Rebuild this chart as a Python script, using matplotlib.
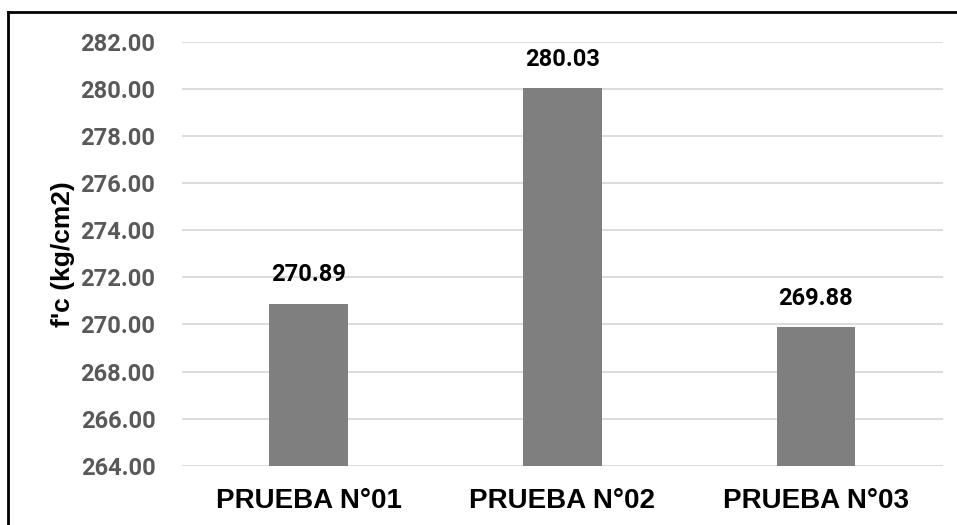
import matplotlib.pyplot as plt
from matplotlib.lines import Line2D

# Compressive strength per test
categories = ['PRUEBA N°01', 'PRUEBA N°02', 'PRUEBA N°03']
fc_values = [270.89, 280.03, 269.88]
y_ticks = [264, 266, 268, 270, 272, 274, 276, 278, 280, 282]

num_font = 'Roboto'

fig = plt.figure(figsize=(9.57, 5.25), dpi=100)
ax = fig.add_axes([0.190, 0.113, 0.795, 0.807])

x = list(range(len(categories)))
ax.bar(x, fc_values, width=0.31, color='#7f7f7f', zorder=2)

# value labels above each bar
for xi, v in zip(x, fc_values):
    ax.annotate(f'{v:.2f}', (xi, v), xytext=(0, 21), textcoords='offset points',
                ha='center', va='center', fontsize=17, fontweight='bold',
                family=num_font, color='black')

ax.set_xlim(-0.5, 2.5)
ax.set_ylim(264, 282)
ax.set_yticks(y_ticks)
ax.set_yticklabels([f'{t:.2f}' for t in y_ticks], family=num_font,
                   fontweight='bold', fontsize=17, color='#595959')
ax.set_xticks(x)
ax.set_xticklabels(categories, family='Liberation Sans', fontweight='bold',
                   fontsize=20, color='black')
ax.tick_params(axis='both', length=0)
ax.tick_params(axis='y', pad=19)
ax.tick_params(axis='x', pad=16)

ax.set_ylabel("f'c (kg/cm2)", family='Liberation Sans', fontweight='bold',
              fontsize=19, labelpad=4)

ax.grid(axis='y', color='#d9d9d9', linewidth=1.3, zorder=0)
for s in ax.spines.values():
    s.set_visible(False)

# frame around the chart (right and bottom fall outside the canvas)
fig.add_artist(Line2D([8/957, 8/957], [0, 1 - 12/525], color='black', linewidth=2,
                      transform=fig.transFigure))
fig.add_artist(Line2D([8/957, 1], [1 - 12/525, 1 - 12/525], color='black', linewidth=2,
                      transform=fig.transFigure))

fig.savefig('out.png', dpi=100)
